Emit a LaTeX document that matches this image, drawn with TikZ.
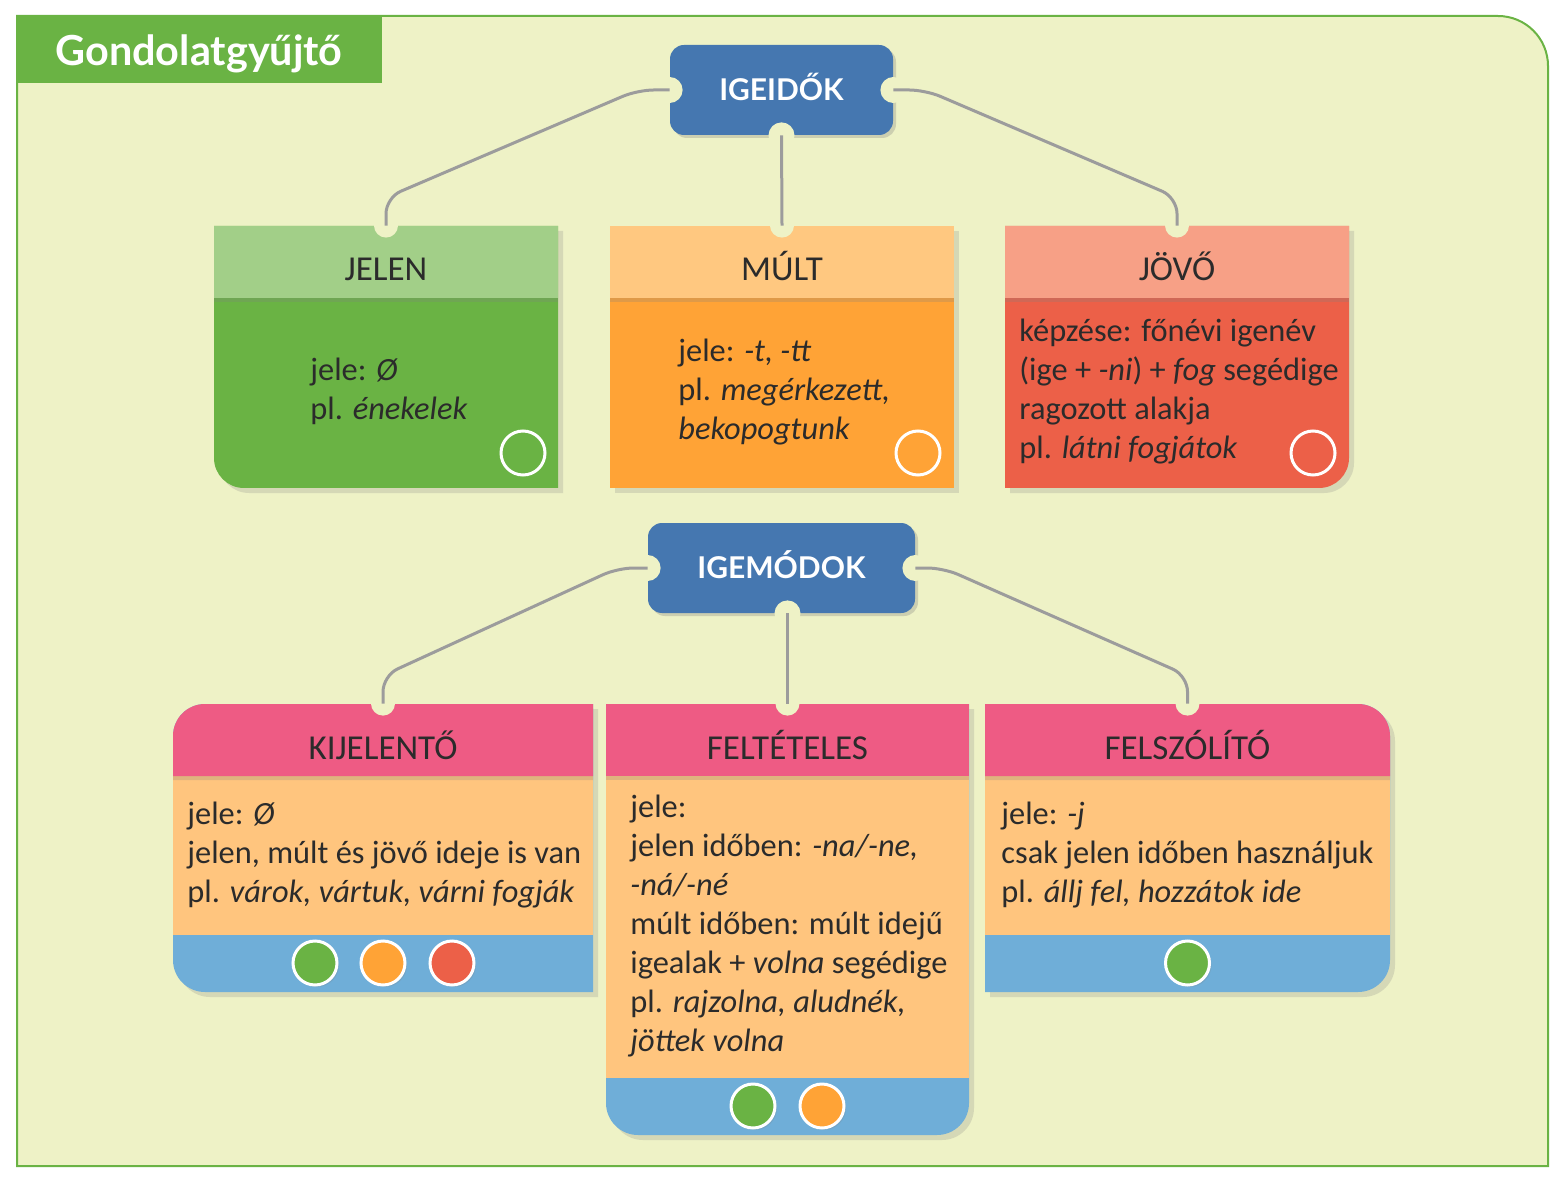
\documentclass[tikz,border=0pt]{standalone}
\usepackage{fontspec}
\setmainfont{Carlito}
\newfontfamily\headfont{Lato}
\usetikzlibrary{shadows}

\definecolor{paper}{HTML}{EEF2C6}
\definecolor{leaf}{HTML}{6AB344}
\definecolor{leaflight}{HTML}{A2CF88}
\definecolor{sun}{HTML}{FFA336}
\definecolor{sunlight}{HTML}{FFC880}
\definecolor{brick}{HTML}{EC6048}
\definecolor{bricklight}{HTML}{F7A086}
\definecolor{navy}{HTML}{4577B0}
\definecolor{rose}{HTML}{EE5B84}
\definecolor{peach}{HTML}{FFC57E}
\definecolor{sky}{HTML}{6FAED8}
\definecolor{wire}{HTML}{9C9C9C}
\definecolor{ink}{HTML}{2B2B2B}

\begin{document}
\begin{tikzpicture}[x=.5pt, y=.5pt,
  tag/.style={fill=navy, rounded corners=7pt, minimum width=111.5pt, minimum height=45pt, inner sep=0pt, text=white, font=\headfont\bfseries\fontsize{15}{18}\selectfont, text height=10.8pt, text depth=0pt, drop shadow={shadow xshift=1.5pt, shadow yshift=-1.5pt, opacity=.3}},
  cardhead/.style={minimum height=36pt, inner sep=0pt, text=ink, font=\fontsize{17.5}{21}\selectfont, text height=19pt, text depth=0pt},
  headshadow/.style={drop shadow={shadow xshift=0pt, shadow yshift=-2pt, opacity=.25}},
  cardshadow/.style={drop shadow={shadow xshift=2.5pt, shadow yshift=-2.5pt, opacity=.22}},
  cardtext/.style={anchor=base west, align=left, inner sep=0pt, text=ink, font=\fontsize{16.2}{19.5}\selectfont},
  link/.style={draw=wire, line width=1.5pt, rounded corners=8pt},
  notch/.style={fill=paper},
  ring/.style={draw=white, line width=1.5pt},
  dot/.style={draw=white, line width=1.5pt, drop shadow={shadow xshift=1pt, shadow yshift=-1pt, opacity=.2}}]

\useasboundingbox (0,0) rectangle (1567,1185);

\filldraw [fill=paper, draw=leaf, line width=1pt] (17,19) -- (17,1169) -- (1498,1169) arc[start angle=90, end angle=0, radius=50] -- (1548,19) -- cycle;
\fill [leaf] (17,1102) rectangle (382,1169);
\node (title) [anchor=west, inner sep=0pt, text=white, font=\headfont\bfseries\fontsize{20.7}{24}\selectfont, text height=14.8pt, text depth=0pt] at (55,1134) {Gondolatgyűjtő};

\fill [leaf, cardshadow] (214,959) -- (214,727) arc[start angle=180, end angle=270, radius=30] -- (558,697) -- (558,959) -- cycle;
\node (jelen) [cardhead, fill=leaflight, headshadow, minimum width=172pt] at (386,923) {JELEN};

\fill [sun, cardshadow] (610,697) rectangle (954,959);
\node (mult) [cardhead, fill=sunlight, headshadow, minimum width=172pt] at (782,923) {MÚLT};

\fill [brick, cardshadow] (1005,959) -- (1005,697) -- (1319,697) arc[start angle=270, end angle=360, radius=30] -- (1349,959) -- cycle;
\node (jovo) [cardhead, fill=bricklight, headshadow, minimum width=172pt] at (1177,923) {JÖVŐ};

\fill [sky, cardshadow] (593,481) -- (205,481) arc[start angle=90, end angle=180, radius=32] -- (173,225) arc[start angle=180, end angle=270, radius=32] -- (593,193) -- cycle;
\fill [peach] (173,250) rectangle (593,409);
\fill [rose, headshadow] (593,409) -- (593,481) -- (205,481) arc[start angle=90, end angle=180, radius=32] -- (173,409) -- cycle;
\node (kijel) [cardhead, minimum width=210pt] at (383,445) {KIJELENTŐ};

\fill [sky, cardshadow] (606,481) -- (606,82) arc[start angle=180, end angle=270, radius=32] -- (937,50) arc[start angle=270, end angle=360, radius=32] -- (969,481) -- cycle;
\fill [peach] (606,107) rectangle (969,409);
\node (feltet) [cardhead, fill=rose, headshadow, minimum width=181.5pt] at (787.5,445) {FELTÉTELES};

\fill [sky, cardshadow] (985,481) -- (1358,481) arc[start angle=90, end angle=0, radius=32] -- (1390,225) arc[start angle=0, end angle=-90, radius=32] -- (985,193) -- cycle;
\fill [peach] (985,250) rectangle (1390,409);
\fill [rose, headshadow] (985,409) -- (985,481) -- (1358,481) arc[start angle=90, end angle=0, radius=32] -- (1390,409) -- cycle;
\node (felsz) [cardhead, minimum width=202.5pt] at (1187.5,445) {FELSZÓLÍTÓ};

\node (jelentext) [cardtext] at (310,765) {jele: \textit{Ø}\\pl. \textit{énekelek}};
\node (multtext) [cardtext] at (678,745) {jele: \textit{-t, -tt}\\pl. \textit{megérkezett,}\\\textit{bekopogtunk}};
\node (jovotext) [cardtext] at (1019,726) {képzése: főnévi igenév\\(ige + \textit{-ni}) + \textit{fog} segédige\\ragozott alakja\\pl. \textit{látni fogjátok}};
\node (kijeltext) [cardtext] at (187,283) {jele: \textit{Ø}\\jelen, múlt és jövő ideje is van\\pl. \textit{várok, vártuk, várni fogják}};
\node (feltettext) [cardtext] at (630,134) {jele:\\jelen időben: \textit{-na/-ne,}\\\textit{-ná/-né}\\múlt időben: múlt idejű\\igealak + \textit{volna} segédige\\pl. \textit{rajzolna, aludnék,}\\\textit{jöttek volna}};
\node (felsztext) [cardtext] at (1001,283) {jele: \textit{-j}\\csak jelen időben használjuk\\pl. \textit{állj fel, hozzátok ide}};

\draw [ring] (523,732) circle (22);
\draw [ring] (918,732) circle (22);
\draw [ring] (1313,732) circle (22);

\filldraw [dot, fill=leaf] (315,222) circle (22);
\filldraw [dot, fill=sun] (383,222) circle (22);
\filldraw [dot, fill=brick] (452,222) circle (22);
\filldraw [dot, fill=leaf] (753,79) circle (22);
\filldraw [dot, fill=sun] (822,79) circle (22);
\filldraw [dot, fill=leaf] (1187.5,222) circle (22);

\node (igeidok) [tag] at (781.5,1095) {IGEIDŐK};
\node (igemodok) [tag, minimum width=133.5pt] at (781.5,617) {IGEMÓDOK};

\fill [notch] (igeidok.west) circle (13);
\fill [notch] (igeidok.east) circle (13);
\fill [notch] (igeidok.south) circle (13);
\fill [notch] (igemodok.west) circle (13);
\fill [notch] (igemodok.east) circle (13);
\fill [notch] (igemodok.south -| feltet.north) circle (13);
\fill [notch] (jelen.north) circle (12);
\fill [notch] (mult.north) circle (12);
\fill [notch] (jovo.north) circle (12);
\fill [notch] (kijel.north) circle (12);
\fill [notch] (feltet.north) circle (12);
\fill [notch] (felsz.north) circle (12);

\draw [link] (igeidok.west) -- ++(-32,0) -- ([yshift=14pt]jelen.north) -- (jelen.north);
\draw [link] (igeidok.south) -- (mult.north);
\draw [link] (igeidok.east) -- ++(32,0) -- ([yshift=14pt]jovo.north) -- (jovo.north);

\draw [link] (igemodok.west) -- ++(-30,0) -- ([yshift=14pt]kijel.north) -- (kijel.north);
\draw [link] (igemodok.south -| feltet.north) -- (feltet.north);
\draw [link] (igemodok.east) -- ++(28,0) -- ([yshift=14pt]felsz.north) -- (felsz.north);
\end{tikzpicture}
\end{document}
